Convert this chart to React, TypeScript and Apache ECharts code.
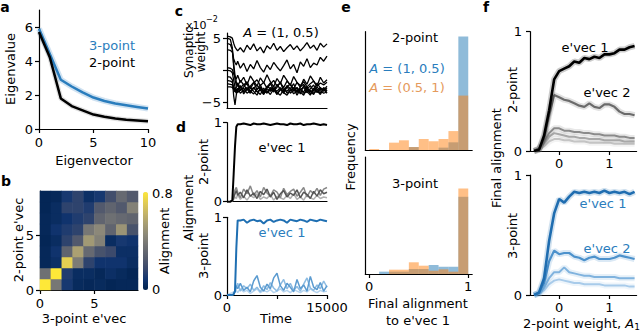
import React, { useEffect, useRef } from "react";
import * as echarts from "echarts";

const FONT = '"DejaVu Sans", Verdana, sans-serif';
const BLUE = "#2a7dbd";
const ORANGE_T = "#e59a5c";

// ---------- panel a ----------
const eigIdx = [0, 1, 2, 3, 4, 5, 6, 7, 8, 9, 10];
const eig3 = [5.9, 4.4, 2.9, 2.5, 2.15, 1.85, 1.65, 1.5, 1.4, 1.3, 1.2];
const eig2 = [5.7, 4.2, 1.8, 1.35, 1.1, 0.85, 0.72, 0.62, 0.55, 0.5, 0.45];

// ---------- panel b (rows = 2-point e'vec 0..8, cols = 3-point e'vec 0..8) ----------
const heatCats = ["0", "1", "2", "3", "4", "5", "6", "7", "8"];
const heatRows = [
  [0.8, 0.38, 0.1, 0.04, 0.03, 0.04, 0.02, 0.03, 0.03],
  [0.35, 0.8, 0.12, 0.05, 0.05, 0.03, 0.06, 0.04, 0.02],
  [0.03, 0.06, 0.72, 0.4, 0.15, 0.08, 0.08, 0.08, 0.05],
  [0.03, 0.08, 0.3, 0.55, 0.32, 0.22, 0.18, 0.06, 0.06],
  [0.02, 0.05, 0.15, 0.25, 0.52, 0.42, 0.05, 0.1, 0.08],
  [0.03, 0.08, 0.12, 0.15, 0.38, 0.45, 0.3, 0.5, 0.22],
  [0.03, 0.05, 0.08, 0.12, 0.15, 0.3, 0.35, 0.32, 0.3],
  [0.02, 0.05, 0.15, 0.15, 0.12, 0.25, 0.3, 0.25, 0.42],
  [0.02, 0.03, 0.1, 0.15, 0.06, 0.1, 0.2, 0.32, 0.25],
];
const cividis = ["#00224e", "#123570", "#3b496c", "#575d6d", "#707173", "#8a8779", "#a59c74", "#c3b369", "#e1cc55", "#fee838"];

// ---------- panels c, d (time) ----------
const T = [0, 500, 800, 1000, 1200, 1400, 1600, 2000, 2500, 3000, 3500, 4000, 4500, 5000, 5500, 6000, 6500, 7000, 7500, 8000, 8500, 9000, 9500, 10000, 10500, 11000, 11500, 12000, 12500, 13000, 13500, 14000, 14500, 15000];

const w1 = [5.3, 5.2, 5.0, 4.2, 3.6, 3.3, 3.0, 3.5, 2.8, 3.9, 3.2, 4.1, 3.0, 3.6, 2.7, 3.8, 3.3, 4.2, 3.1, 3.7, 2.9, 3.5, 4.0, 3.2, 3.8, 3.0, 3.6, 4.3, 3.4, 3.9, 3.1, 4.2, 3.6, 4.1];
const w2 = [3.2, 3.1, 2.8, 1.8, 1.2, 0.8, 1.4, 0.3, 1.1, -0.2, 0.9, 0.2, 1.5, 0.4, -0.3, 0.8, 0.1, 1.2, 0.5, -0.1, 0.7, 1.6, 0.2, 0.9, -0.4, 1.3, 0.6, 1.8, 0.4, 1.1, 0.8, 2.0, 1.4, 2.2];
const w3 = [0.4, 0.3, 0.1, -0.6, -1.0, -1.4, -0.8, -1.9, -1.1, -2.3, -0.9, -1.7, -2.5, -1.2, -2.0, -0.7, -1.8, -2.6, -1.3, -2.1, -0.8, -1.6, -2.4, -1.0, -1.9, -2.7, -1.4, -2.2, -0.9, -1.7, -2.5, -1.1, -2.0, -1.5];
const w4 = [5.0, 4.8, 3.5, 0.5, -1.5, -2.4, -2.0, -2.8, -2.2, -3.1, -2.5, -1.9, -3.0, -2.3, -3.4, -2.6, -2.0, -3.2, -2.7, -1.8, -3.3, -2.4, -2.9, -2.1, -3.5, -2.6, -2.2, -3.0, -2.4, -3.3, -2.0, -2.8, -3.1, -2.5];
const w5 = [-1.0, -1.1, -1.5, -4.0, -5.4, -3.8, -3.0, -2.6, -3.4, -2.9, -3.6, -2.7, -3.3, -3.8, -2.8, -3.5, -3.0, -2.5, -3.7, -3.1, -2.7, -3.6, -3.2, -2.8, -3.9, -3.0, -3.4, -2.6, -3.7, -3.1, -2.9, -3.6, -2.7, -3.2];
const w6 = [-1.6, -1.7, -1.9, -2.6, -3.0, -2.7, -2.2, -3.2, -2.6, -2.0, -3.5, -2.8, -2.3, -3.1, -3.7, -2.5, -2.9, -3.4, -2.2, -3.0, -3.6, -2.6, -2.1, -3.3, -2.8, -3.7, -2.4, -3.2, -2.9, -2.3, -3.5, -2.7, -3.3, -2.8];
const w7 = [-2.1, -2.2, -2.3, -2.8, -3.2, -3.6, -3.1, -2.4, -3.7, -3.0, -2.6, -3.3, -3.9, -2.8, -3.2, -3.6, -2.7, -3.0, -3.8, -2.9, -3.4, -2.5, -3.6, -3.1, -2.7, -3.4, -3.9, -2.9, -3.3, -3.8, -2.6, -3.2, -3.6, -3.4];
const w8 = [-2.6, -2.6, -2.7, -3.0, -3.4, -2.9, -3.5, -3.0, -2.8, -3.6, -3.2, -2.7, -3.4, -3.0, -3.8, -2.9, -3.3, -2.8, -3.5, -3.9, -3.0, -3.3, -2.8, -3.7, -3.2, -2.9, -3.6, -3.3, -3.9, -2.8, -3.4, -3.0, -2.9, -3.6];
const w9 = [4.2, 4.0, 3.2, 1.0, -0.8, -1.8, -2.5, -1.6, -2.3, -1.8, -2.9, -2.0, -1.5, -2.4, -1.9, -2.8, -2.2, -1.6, -2.5, -2.0, -2.7, -1.7, -2.3, -2.9, -1.9, -2.4, -1.8, -2.6, -2.1, -1.7, -2.5, -2.0, -2.3, -1.9];
const w10 = [0.0, -0.1, -0.4, -1.6, -2.6, -3.3, -2.8, -3.6, -3.1, -2.7, -3.3, -3.7, -3.0, -2.6, -3.5, -3.2, -3.8, -2.9, -3.3, -2.7, -3.5, -3.9, -3.1, -2.8, -3.4, -3.0, -2.7, -3.5, -3.1, -3.6, -3.2, -3.8, -2.9, -3.3];
const weights = [w1, w2, w3, w4, w5, w6, w7, w8, w9, w10];

const d2e1 = [0, 0, 0.02, 0.35, 0.7, 0.95, 0.98, 0.98, 0.99, 0.98, 0.97, 0.99, 0.98, 0.98, 0.99, 0.98, 0.97, 0.98, 0.99, 0.98, 0.98, 0.97, 0.99, 0.98, 0.98, 0.99, 0.97, 0.98, 0.98, 0.99, 0.98, 0.97, 0.98, 0.97];
const d2g1 = [0, 0, 0.01, 0.05, 0.1, 0.14, 0.08, 0.12, 0.05, 0.15, 0.07, 0.11, 0.04, 0.13, 0.09, 0.16, 0.06, 0.12, 0.03, 0.1, 0.14, 0.06, 0.11, 0.08, 0.15, 0.05, 0.12, 0.09, 0.04, 0.13, 0.07, 0.15, 0.1, 0.12];
const d2g2 = [0, 0, 0.01, 0.08, 0.15, 0.18, 0.12, 0.05, 0.16, 0.1, 0.2, 0.08, 0.14, 0.06, 0.18, 0.11, 0.07, 0.15, 0.12, 0.05, 0.17, 0.09, 0.13, 0.16, 0.07, 0.12, 0.18, 0.06, 0.14, 0.1, 0.17, 0.08, 0.16, 0.18];
const d2g3 = [0, 0, 0.01, 0.03, 0.06, 0.04, 0.09, 0.03, 0.07, 0.02, 0.08, 0.05, 0.1, 0.03, 0.06, 0.04, 0.09, 0.02, 0.07, 0.05, 0.03, 0.08, 0.04, 0.1, 0.03, 0.06, 0.02, 0.09, 0.05, 0.03, 0.08, 0.04, 0.06, 0.05];
const d3e1 = [0, 0, 0, 0.01, 0.05, 0.6, 0.96, 0.96, 0.97, 0.93, 0.96, 0.97, 0.95, 0.96, 0.92, 0.96, 0.97, 0.94, 0.96, 0.97, 0.96, 0.93, 0.97, 0.96, 0.95, 0.97, 0.96, 0.94, 0.97, 0.96, 0.95, 0.97, 0.96, 0.95];
const d3b1 = [0, 0, 0, 0.01, 0.05, 0.12, 0.08, 0.15, 0.06, 0.1, 0.04, 0.18, 0.25, 0.1, 0.05, 0.14, 0.08, 0.22, 0.28, 0.12, 0.06, 0.15, 0.1, 0.04, 0.2, 0.08, 0.13, 0.05, 0.24, 0.1, 0.07, 0.16, 0.05, 0.12];
const d3b2 = [0, 0, 0, 0.01, 0.04, 0.1, 0.15, 0.05, 0.12, 0.08, 0.14, 0.06, 0.1, 0.04, 0.12, 0.07, 0.16, 0.09, 0.05, 0.13, 0.2, 0.08, 0.15, 0.06, 0.11, 0.05, 0.14, 0.22, 0.09, 0.06, 0.13, 0.08, 0.18, 0.1];
const d3b3 = [0, 0.02, 0.03, 0.04, 0.05, 0.06, 0.03, 0.08, 0.04, 0.06, 0.02, 0.05, 0.08, 0.03, 0.06, 0.04, 0.07, 0.03, 0.05, 0.08, 0.04, 0.06, 0.03, 0.07, 0.05, 0.03, 0.06, 0.04, 0.08, 0.05, 0.03, 0.06, 0.04, 0.05];

// ---------- panel e (histograms, 10 bins) ----------
const binCenters = [0.05, 0.15, 0.25, 0.35, 0.45, 0.55, 0.65, 0.75, 0.85, 0.95];
const h2Blue = [0, 0, 0, 0, 0.025, 0, 0, 0.02, 0.065, 0.96];
const h2Orange = [0.008, 0, 0.062, 0.082, 0.025, 0.093, 0.074, 0.093, 0.16, 0.46];
const h3Blue = [0, 0.02, 0.02, 0.02, 0.043, 0.043, 0.077, 0.062, 0.062, 0.66];
const h3Orange = [0, 0, 0.037, 0.037, 0.1, 0.071, 0.028, 0.04, 0.02, 0.73];

// ---------- panel f ----------
const XF = [-0.5, -0.4, -0.3, -0.2, -0.1, 0, 0.1, 0.2, 0.3, 0.4, 0.5, 0.6, 0.7, 0.8, 0.9, 1.0, 1.1, 1.2, 1.3, 1.4, 1.5];
const f2e1 = [0, 0.01, 0.13, 0.34, 0.6, 0.67, 0.69, 0.71, 0.75, 0.74, 0.78, 0.77, 0.79, 0.78, 0.81, 0.81, 0.82, 0.85, 0.85, 0.87, 0.88];
const f2e2 = [0, 0.02, 0.1, 0.3, 0.47, 0.45, 0.43, 0.42, 0.4, 0.38, 0.37, 0.4, 0.37, 0.36, 0.39, 0.39, 0.37, 0.33, 0.31, 0.31, 0.3];
const f2e3 = [0, 0.02, 0.07, 0.15, 0.19, 0.19, 0.17, 0.17, 0.16, 0.16, 0.15, 0.15, 0.14, 0.14, 0.13, 0.13, 0.13, 0.12, 0.12, 0.11, 0.11];
const f2e4 = [0, 0.02, 0.06, 0.12, 0.15, 0.14, 0.13, 0.12, 0.12, 0.11, 0.11, 0.1, 0.1, 0.1, 0.09, 0.09, 0.09, 0.09, 0.08, 0.08, 0.08];
const f2e5 = [0, 0.01, 0.04, 0.08, 0.1, 0.1, 0.09, 0.09, 0.08, 0.08, 0.08, 0.07, 0.07, 0.07, 0.07, 0.07, 0.06, 0.06, 0.06, 0.06, 0.06];
const f3e1 = [0, 0.02, 0.14, 0.45, 0.68, 0.8, 0.77, 0.82, 0.86, 0.85, 0.86, 0.85, 0.86, 0.85, 0.87, 0.85, 0.86, 0.85, 0.86, 0.84, 0.86];
const f3e2 = [0, 0.02, 0.1, 0.28, 0.37, 0.34, 0.35, 0.35, 0.32, 0.31, 0.29, 0.31, 0.32, 0.3, 0.3, 0.3, 0.31, 0.33, 0.32, 0.31, 0.3];
const f3e3 = [0, 0.01, 0.06, 0.14, 0.19, 0.19, 0.23, 0.19, 0.18, 0.17, 0.16, 0.16, 0.15, 0.15, 0.15, 0.15, 0.15, 0.14, 0.14, 0.14, 0.14];
const f3e4 = [0, 0.01, 0.04, 0.09, 0.12, 0.13, 0.12, 0.11, 0.1, 0.1, 0.09, 0.09, 0.09, 0.09, 0.08, 0.08, 0.08, 0.08, 0.08, 0.07, 0.07];

function xy(xs: number[], ys: number[]) {
  return xs.map((x, i) => [x, ys[i]]);
}

const LINE = { color: "#000", width: 1.2 };

function vAxis(grid: number, min: number, max: number, pos: string, o: any = {}) {
  return {
    type: "value",
    gridIndex: grid,
    min,
    max,
    position: pos,
    axisLine: { show: true, onZero: false, lineStyle: LINE },
    axisTick: o.ticks ? { show: true, length: 4, lineStyle: LINE, customValues: o.ticks } : { show: false },
    axisLabel: o.labels
      ? {
          show: true,
          customValues: o.labels,
          color: "#000",
          fontSize: 13,
          fontFamily: FONT,
          margin: o.margin ?? 6,
          formatter: o.fmt ?? ((v: number) => String(v)),
        }
      : { show: false },
    splitLine: { show: false },
  };
}

function catAxis(grid: number, pos: string) {
  return { type: "category", gridIndex: grid, data: heatCats, show: false, position: pos };
}

function txt(text: string, x: number, y: number, o: any = {}) {
  const size = o.size ?? 13;
  const fill = o.color ?? "#000";
  const align = o.align ?? "center";
  return {
    type: "text",
    x,
    y,
    rotation: o.rot ? Math.PI / 2 : 0,
    silent: true,
    z: 100,
    style: {
      text,
      x: 0,
      y: 0,
      fill,
      fontSize: size,
      fontFamily: FONT,
      fontWeight: o.bold ? "bold" : "normal",
      align,
      textAlign: align,
      verticalAlign: "middle",
      textVerticalAlign: "middle",
      rich: o.rich,
    },
  };
}

function italicRich(fill: string) {
  return {
    i: { fontStyle: "italic", fontSize: 13, fontFamily: FONT, fill },
    s: { fontSize: 9, fontFamily: FONT, fill, padding: [7, 0, 0, 0] },
  };
}

function line(xi: number, data: any[], color: string, width: number, opacity = 1, z = 2) {
  return {
    type: "line",
    xAxisIndex: xi,
    yAxisIndex: xi,
    data,
    showSymbol: false,
    symbol: "none",
    silent: true,
    z,
    lineStyle: { color, width, opacity },
  };
}

export default function App() {
  const ref = useRef<HTMLDivElement>(null);
  useEffect(() => {
    document.body.style.margin = "0";
    const chart = echarts.init(ref.current!, null, { renderer: "svg" });

    const series: any[] = [];
    // a
    series.push(line(0, xy(eigIdx, eig3), BLUE, 6, 0.22));
    series.push(line(0, xy(eigIdx, eig2), "#000", 5, 0.12));
    series.push(line(0, xy(eigIdx, eig3), BLUE, 2.5));
    series.push(line(0, xy(eigIdx, eig2), "#000", 2.5));
    // b heatmap
    const heatData: number[][] = [];
    heatRows.forEach((row, r) => row.forEach((v, c) => heatData.push([c, r, v])));
    const heatIndex = series.length;
    series.push({ type: "heatmap", xAxisIndex: 1, yAxisIndex: 1, data: heatData, silent: true, itemStyle: { borderWidth: 0 } });
    // c
    weights.forEach((w) => series.push(line(3, xy(T, w), "#000", 1.3)));
    // d top
    series.push(line(4, xy(T, d2g3), "#b0b0b0", 1.5));
    series.push(line(4, xy(T, d2g2), "#888888", 1.5));
    series.push(line(4, xy(T, d2g1), "#555555", 1.5));
    series.push(line(4, xy(T, d2e1), "#000", 2));
    // d bottom
    series.push(line(5, xy(T, d3b3), "#b5d3ee", 1.5));
    series.push(line(5, xy(T, d3b2), "#8cbbe2", 1.5));
    series.push(line(5, xy(T, d3b1), "#5b9bd0", 1.5));
    series.push(line(5, xy(T, d3e1), "#1f6fb2", 2));
    // e
    const bar = (xi: number, vals: number[], color: string) => ({
      type: "bar",
      xAxisIndex: xi,
      yAxisIndex: xi,
      data: xy(binCenters, vals),
      barWidth: 9.9,
      barGap: "-100%",
      silent: true,
      itemStyle: { color },
    });
    series.push(bar(6, h2Blue, "rgba(31,119,180,0.5)"));
    series.push(bar(6, h2Orange, "rgba(255,127,14,0.5)"));
    series.push(bar(7, h3Blue, "rgba(31,119,180,0.5)"));
    series.push(bar(7, h3Orange, "rgba(255,127,14,0.5)"));
    // f top
    const fTop: [number[], string, number][] = [
      [f2e5, "#c4c4c4", 2],
      [f2e4, "#a8a8a8", 2],
      [f2e3, "#8a8a8a", 2],
      [f2e2, "#6b6b6b", 2.2],
      [f2e1, "#000000", 2.6],
    ];
    fTop.forEach(([v, c, w]) => {
      series.push(line(8, xy(XF, v), c, 6, 0.2));
      series.push(line(8, xy(XF, v), c, w));
    });
    const fBot: [number[], string, number][] = [
      [f3e4, "#a8cbea", 2],
      [f3e3, "#80b3de", 2],
      [f3e2, "#4d92cc", 2.2],
      [f3e1, "#1f6db0", 2.6],
    ];
    fBot.forEach(([v, c, w]) => {
      series.push(line(9, xy(XF, v), c, 6, 0.2));
      series.push(line(9, xy(XF, v), c, w));
    });

    const G = (left: number, top: number, width: number, height: number) => ({
      left,
      top,
      width,
      height,
      containLabel: false,
      outerBoundsMode: "none",
    });

    const fTicks = { ticks: [0, 1], labels: [0, 1], margin: 6 };

    const option: any = {
      animation: false,
      textStyle: { fontFamily: FONT },
      grid: [
        G(39, 10, 109, 119),
        G(40, 191, 98, 99),
        G(227, 33, 100, 75),
        G(227, 122.7, 100, 79),
        G(227, 217.3, 100, 77.7),
        G(365.3, 31.7, 106.9, 118.3),
        G(365.3, 157, 106.9, 117),
        G(530, 31.7, 106.6, 119.3),
        G(530, 175, 106.6, 120),
      ],
      xAxis: [
        vAxis(0, 0, 10, "bottom", { ticks: [0, 5, 10], labels: [0, 5, 10], margin: 7 }),
        catAxis(1, "bottom"),
        vAxis(1, 0, 9, "bottom", { ticks: [0, 5], labels: [0, 5], margin: 7 }),
        vAxis(2, 0, 15000, "bottom"),
        vAxis(3, 0, 15000, "bottom"),
        vAxis(4, 0, 15000, "bottom", { ticks: [0, 7500, 15000], labels: [0, 15000], margin: 6 }),
        vAxis(5, -0.04, 1.04, "bottom"),
        vAxis(6, -0.04, 1.04, "bottom", { ticks: [0, 1], labels: [0, 1], margin: 6 }),
        vAxis(7, -0.58, 1.54, "bottom", fTicks),
        vAxis(8, -0.58, 1.54, "bottom", fTicks),
      ],
      yAxis: [
        vAxis(0, 0, 7, "left", { ticks: [0, 2, 4, 6], labels: [0, 2, 4, 6], margin: 6 }),
        catAxis(1, "left"),
        vAxis(1, 0, 9, "left", { ticks: [0, 5], labels: [0, 5], margin: 6 }),
        vAxis(2, -5.9, 5.8, "left", {
          ticks: [-5, 0, 5],
          labels: [-5, 5],
          margin: 6,
          fmt: (v: number) => (v < 0 ? "\u2212" + Math.abs(v) : String(v)),
        }),
        vAxis(3, 0, 1, "left", { ticks: [0, 1], labels: [0, 1], margin: 5 }),
        vAxis(4, 0, 1, "left", { ticks: [0, 1], labels: [0, 1], margin: 5 }),
        vAxis(5, 0, 1, "left"),
        vAxis(6, 0, 1, "left"),
        vAxis(7, 0, 1, "left", { ticks: [0, 1], labels: [0, 1], margin: 8 }),
        vAxis(8, 0, 1, "left", { ticks: [0, 1], labels: [0, 1], margin: 8 }),
      ],
      visualMap: {
        type: "continuous",
        seriesIndex: heatIndex,
        min: 0,
        max: 0.8,
        calculable: false,
        orient: "vertical",
        left: 143,
        top: 192,
        itemWidth: 5,
        itemHeight: 98,
        padding: 0,
        inRange: { color: cividis },
        textStyle: { color: "transparent" },
      },
      series,
      graphic: {
        elements: [
          // panel letters
          txt("a", 5, 7, { bold: true, size: 14 }),
          txt("b", 6, 181, { bold: true, size: 14 }),
          txt("c", 179, 11, { bold: true, size: 14 }),
          txt("d", 181, 127, { bold: true, size: 14 }),
          txt("e", 346, 7, { bold: true, size: 14 }),
          txt("f", 486, 7, { bold: true, size: 14 }),
          // a
          txt("Eigenvalue", 10, 69, { rot: true }),
          txt("Eigenvector", 94, 160),
          txt("3-point", 89, 45, { align: "left", color: BLUE }),
          txt("2-point", 89, 62, { align: "left" }),
          // b
          txt("2-point e'vec", 18, 240, { rot: true }),
          txt("3-point e'vec", 84, 318),
          txt("0.8", 152, 193, { align: "left" }),
          txt("0", 152, 289, { align: "left" }),
          txt("Alignment", 164, 241, { rot: true }),
          // c
          txt("Synaptic", 189, 52, { rot: true, size: 12 }),
          txt("weight", 201, 52, { rot: true, size: 12 }),
          txt("x10", 186, 25, { align: "left", size: 11 }),
          txt("\u22122", 206, 19, { align: "left", size: 8 }),
          txt("{i|A} = (1, 0.5)", 281, 32, { rich: italicRich("#000") }),
          // d
          txt("Alignment", 188, 208, { rot: true }),
          txt("2-point", 203, 162, { rot: true }),
          txt("3-point", 203, 256, { rot: true }),
          txt("e'vec 1", 282, 147),
          txt("e'vec 1", 282, 232, { color: BLUE }),
          txt("Time", 276, 318),
          // e
          txt("2-point", 415, 37),
          txt("{i|A} = (1, 0.5)", 407, 68, { color: BLUE, rich: italicRich(BLUE) }),
          txt("{i|A} = (0.5, 1)", 407, 87, { color: ORANGE_T, rich: italicRich(ORANGE_T) }),
          txt("3-point", 415, 183),
          txt("Frequency", 350, 157, { rot: true }),
          txt("Final alignment", 418, 303),
          txt("to e'vec 1", 418, 320),
          // f
          txt("e'vec 1", 585, 47),
          txt("e'vec 2", 607, 92),
          txt("e'vec 1", 603, 203, { color: BLUE }),
          txt("e'vec 2", 607, 248, { color: BLUE }),
          txt("Final alignment", 496, 158, { rot: true }),
          txt("2-point", 512, 90, { rot: true }),
          txt("3-point", 512, 236, { rot: true }),
          txt("2-point weight, {i|A}{s|1}", 523, 323, { align: "left", rich: italicRich("#000") }),
        ],
      },
    };

    chart.setOption(option);
    return () => chart.dispose();
  }, []);
  return <div ref={ref} style={{ width: 640, height: 331 }} />;
}
